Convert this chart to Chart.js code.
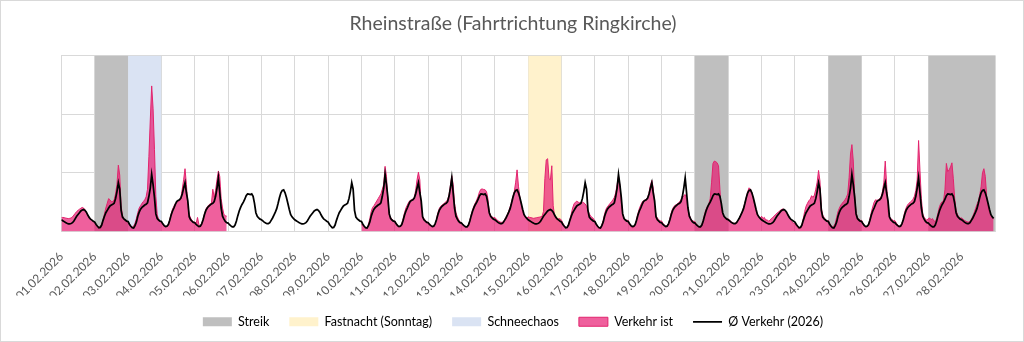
<!DOCTYPE html>
<html lang="de">
<head>
<meta charset="utf-8">
<title>Rheinstraße (Fahrtrichtung Ringkirche)</title>
<script src="https://cdn.jsdelivr.net/npm/chart.js@4.4.1/dist/chart.umd.min.js"></script>
<style>
  html, body { margin: 0; padding: 0; background: #fff; }
</style>
</head>
<body>
<canvas id="traffic-chart" width="1024" height="342"></canvas>
<script>
// Days of February 2026 (01.02. is a Sunday)
const days = [
    '01.02.2026', '02.02.2026', '03.02.2026', '04.02.2026', '05.02.2026', '06.02.2026', '07.02.2026',
    '08.02.2026', '09.02.2026', '10.02.2026', '11.02.2026', '12.02.2026', '13.02.2026', '14.02.2026',
    '15.02.2026', '16.02.2026', '17.02.2026', '18.02.2026', '19.02.2026', '20.02.2026', '21.02.2026',
    '22.02.2026', '23.02.2026', '24.02.2026', '25.02.2026', '26.02.2026', '27.02.2026', '28.02.2026'
];

// Ø Verkehr (2026): hourly mean per weekday, hours 0..23
const avgSun = [100, 92, 84, 76, 70, 66, 66, 68, 75, 90, 110, 130, 145, 160, 175, 183, 187, 180, 165, 140, 120, 105, 97, 88];
const avgMon = [80, 60, 45, 32, 35, 55, 95, 130, 160, 180, 200, 218, 225, 232, 240, 280, 340, 415, 360, 180, 122, 108, 98, 88];
const avgTue = [85, 62, 45, 32, 30, 50, 80, 130, 165, 190, 205, 215, 225, 232, 245, 300, 370, 486, 400, 290, 150, 110, 98, 88];
const avgWed = [85, 65, 50, 42, 45, 60, 95, 140, 175, 200, 230, 255, 265, 270, 285, 320, 370, 415, 330, 260, 125, 100, 88, 78];
const avgThu = [75, 60, 50, 42, 45, 65, 100, 145, 180, 200, 215, 225, 235, 240, 255, 300, 370, 457, 330, 200, 130, 105, 85, 75];
const avgFri = [72, 58, 48, 40, 40, 55, 90, 135, 175, 205, 230, 250, 275, 305, 320, 318, 315, 320, 300, 240, 160, 130, 115, 105];
const avgSat = [100, 90, 80, 72, 68, 68, 75, 95, 115, 140, 165, 195, 240, 290, 330, 350, 355, 330, 290, 240, 190, 145, 125, 112];
const avgByWeekday = [avgSun, avgMon, avgTue, avgWed, avgThu, avgFri, avgSat];

// Verkehr ist: hourly counts, hours 0..23
const ist0102 = [118, 120, 118, 115, 112, 110, 112, 115, 125, 140, 155, 170, 180, 190, 198, 205, 200, 185, 160, 140, 120, 110, 100, 85];
const ist0202 = [75, 55, 42, 35, 42, 60, 100, 150, 200, 240, 280, 270, 255, 255, 270, 320, 400, 565, 480, 220, 135, 110, 95, 80];
const ist0302 = [85, 60, 45, 38, 45, 70, 110, 160, 200, 220, 240, 255, 270, 295, 360, 640, 950, 1240, 1050, 700, 300, 140, 105, 85];
const ist0402 = [80, 60, 48, 42, 45, 62, 100, 150, 190, 215, 240, 250, 255, 262, 280, 360, 440, 535, 400, 220, 145, 115, 95, 80];
const ist0502 = [80, 70, 120, 60, 48, 68, 105, 150, 190, 210, 225, 235, 240, 360, 290, 350, 440, 515, 470, 280, 200, 145, 135, 130];
const ist1002 = [60, 45, 35, 25, 28, 60, 110, 170, 205, 220, 240, 260, 280, 300, 320, 360, 400, 555, 470, 260, 140, 120, 105, 90];
const ist1102 = [90, 70, 52, 42, 45, 65, 110, 160, 200, 225, 250, 265, 270, 275, 290, 350, 440, 505, 440, 200, 130, 110, 95, 80];
const ist1202 = [80, 60, 48, 42, 45, 65, 105, 160, 195, 215, 225, 235, 245, 255, 270, 310, 390, 475, 400, 240, 160, 125, 100, 80];
const ist1302 = [75, 60, 48, 42, 42, 58, 95, 145, 185, 220, 245, 270, 300, 340, 360, 362, 358, 355, 340, 280, 165, 135, 125, 118];
const ist1402 = [120, 105, 95, 85, 80, 78, 82, 100, 120, 145, 175, 210, 250, 300, 340, 420, 525, 386, 290, 230, 170, 135, 120, 112];
const ist1502 = [125, 120, 118, 115, 112, 115, 118, 120, 122, 125, 130, 170, 450, 610, 620, 450, 440, 560, 220, 130, 115, 110, 108, 108];
const ist1602 = [95, 70, 50, 35, 35, 60, 100, 150, 200, 235, 250, 258, 250, 245, 248, 250, 245, 235, 216, 180, 150, 130, 120, 110];
const ist1702 = [85, 60, 42, 30, 28, 55, 95, 150, 190, 210, 225, 240, 255, 270, 290, 330, 400, 470, 390, 250, 150, 115, 100, 95];
const ist1802 = [95, 65, 45, 30, 35, 60, 105, 155, 195, 225, 250, 262, 268, 272, 290, 330, 395, 435, 370, 220, 135, 115, 100, 90];
const ist1902 = [90, 70, 55, 45, 48, 70, 110, 160, 195, 215, 225, 232, 240, 255, 270, 290, 305, 315, 270, 190, 140, 110, 95, 88];
const ist2002 = [85, 65, 50, 35, 38, 60, 100, 150, 190, 215, 235, 280, 420, 580, 600, 595, 585, 560, 360, 190, 150, 125, 115, 108];
const ist2102 = [108, 95, 85, 75, 70, 70, 78, 95, 115, 140, 170, 200, 245, 290, 340, 372, 360, 330, 280, 225, 175, 140, 125, 112];
const ist2202 = [130, 110, 120, 95, 100, 88, 95, 110, 120, 130, 145, 155, 165, 175, 185, 192, 190, 178, 160, 140, 120, 100, 80, 70];
const ist2302 = [70, 50, 35, 22, 30, 55, 110, 170, 215, 240, 262, 275, 305, 290, 310, 360, 420, 520, 430, 200, 140, 120, 100, 90];
const ist2402 = [95, 70, 50, 40, 45, 70, 120, 170, 200, 225, 240, 255, 270, 290, 320, 460, 660, 740, 600, 310, 160, 120, 105, 95];
const ist2502 = [95, 70, 50, 38, 40, 62, 110, 165, 210, 250, 270, 265, 270, 280, 295, 340, 420, 600, 400, 170, 125, 112, 100, 92];
const ist2602 = [92, 72, 55, 45, 48, 68, 110, 165, 200, 225, 240, 250, 260, 275, 300, 350, 440, 775, 520, 280, 150, 120, 105, 95];
const ist2702 = [110, 115, 100, 110, 90, 85, 110, 160, 210, 240, 255, 265, 360, 580, 510, 525, 550, 585, 450, 280, 180, 145, 125, 115];
const ist2802 = [115, 105, 95, 88, 82, 80, 88, 105, 130, 160, 195, 230, 260, 310, 380, 500, 535, 470, 300, 215, 165, 135, 120, 105];

// no counter data from 06.02. to 09.02.
const istByDay = [
    ist0102, ist0202, ist0302, ist0402, ist0502, null, null,
    null, null, ist1002, ist1102, ist1202, ist1302, ist1402,
    ist1502, ist1602, ist1702, ist1802, ist1902, ist2002, ist2102,
    ist2202, ist2302, ist2402, ist2502, ist2602, ist2702, ist2802
];

// Special days
const streikDays = ['02.02.2026', '20.02.2026', '24.02.2026', '27.02.2026', '28.02.2026'];
const fastnachtDays = ['15.02.2026'];
const schneechaosDays = ['03.02.2026'];

const Y_MAX = 1500;

// hourly points, x = day index + hour / 24
const istPoints = [];
const avgPoints = [];
days.forEach((day, d) => {
    const avg = avgByWeekday[d % 7];
    const ist = istByDay[d];
    for (let h = 0; h < 24; h++) {
        avgPoints.push({ x: d + h / 24, y: avg[h] });
        istPoints.push({ x: d + h / 24, y: ist ? ist[h] : null });
    }
});

// full-height blocks for the marked days, consecutive days merged
function bandPoints(list) {
    const pts = [];
    list.forEach(day => {
        const d = days.indexOf(day);
        const last = pts[pts.length - 1];
        if (last && last.y === null && last.x === d) {
            pts.pop();
        } else {
            pts.push({ x: d, y: Y_MAX });
        }
        pts.push({ x: d + 1, y: Y_MAX }, { x: d + 1, y: null });
    });
    return pts;
}

function band(label, list, color) {
    return {
        label: label,
        data: bandPoints(list),
        backgroundColor: color,
        borderColor: color,
        borderWidth: 0,
        fill: 'origin',
        pointRadius: 0,
        spanGaps: false,
        order: 3,
        legendStyle: 'rect'
    };
}

// thin frame round the whole chart
const frame = {
    id: 'frame',
    afterDraw(chart) {
        const { ctx, width, height } = chart;
        ctx.save();
        ctx.strokeStyle = '#d9d9d9';
        ctx.lineWidth = 1;
        ctx.strokeRect(0.5, 0.5, width - 1, height - 1);
        ctx.restore();
    }
};

Chart.defaults.font.family = 'Lato';
Chart.defaults.color = '#595959';

new Chart(document.getElementById('traffic-chart'), {
    type: 'line',
    data: {
        datasets: [
            band('Streik', streikDays, '#bfbfbf'),
            band('Fastnacht (Sonntag)', fastnachtDays, '#fff2cc'),
            band('Schneechaos', schneechaosDays, '#dae3f3'),
            {
                label: 'Verkehr ist',
                data: istPoints,
                backgroundColor: 'rgba(232, 20, 110, 0.68)',
                borderColor: '#e2246d',
                borderWidth: 1,
                fill: 'origin',
                pointRadius: 0,
                spanGaps: false,
                order: 2,
                legendStyle: 'rect'
            },
            {
                label: 'Ø Verkehr (2026)',
                data: avgPoints,
                borderColor: '#000000',
                backgroundColor: '#000000',
                borderWidth: 1.75,
                fill: false,
                pointRadius: 0,
                order: 1,
                legendStyle: 'line'
            }
        ]
    },
    options: {
        responsive: false,
        animation: false,
        events: [],
        layout: {
            autoPadding: false,
            padding: { left: 31, right: 29, top: 0, bottom: 4 }
        },
        plugins: {
            title: {
                display: true,
                text: 'Rheinstraße (Fahrtrichtung Ringkirche)',
                color: '#595959',
                font: { size: 19.5, weight: 'normal' },
                padding: { top: 12, bottom: 20 }
            },
            legend: {
                position: 'bottom',
                labels: {
                    usePointStyle: true,
                    pointStyleWidth: 29,
                    boxHeight: 9,
                    padding: 20,
                    color: '#595959',
                    font: { size: 12.5 },
                    generateLabels: chart => chart.data.datasets.map((ds, i) => ({
                        text: ds.label,
                        datasetIndex: i,
                        hidden: false,
                        fillStyle: ds.backgroundColor,
                        strokeStyle: ds.borderColor,
                        lineWidth: ds.borderWidth,
                        pointStyle: ds.legendStyle
                    }))
                }
            },
            tooltip: { enabled: false }
        },
        scales: {
            x: {
                type: 'linear',
                min: 0,
                max: 28,
                afterFit: scale => { scale.height = 64; },
                ticks: {
                    stepSize: 1,
                    autoSkip: false,
                    minRotation: 45,
                    maxRotation: 45,
                    padding: 18,
                    color: '#595959',
                    font: { size: 12 },
                    callback: value => days[value] || ''
                },
                grid: { color: '#d9d9d9', drawTicks: false },
                border: { color: '#d9d9d9' }
            },
            y: {
                min: 0,
                max: Y_MAX,
                afterFit: scale => { scale.width = 29; },
                ticks: { display: false, stepSize: 500 },
                grid: { color: '#d9d9d9', drawTicks: false },
                border: { display: false }
            }
        }
    },
    plugins: [frame]
});
</script>
</body>
</html>
